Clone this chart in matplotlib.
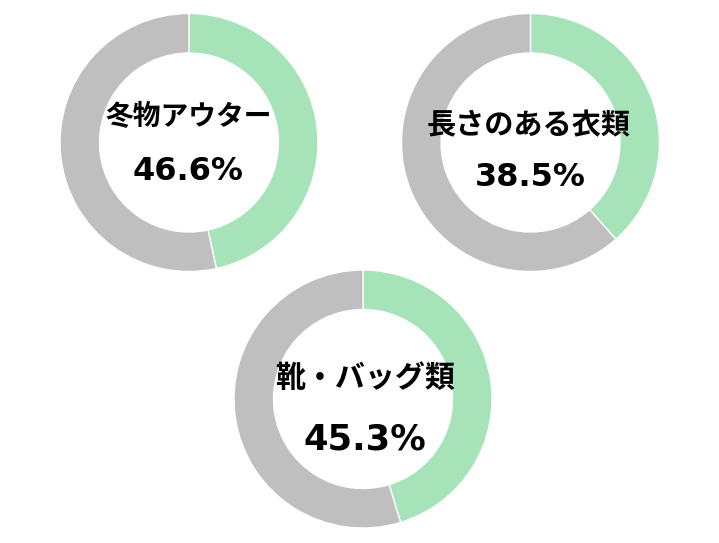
import matplotlib
matplotlib.use('Agg')
import matplotlib.pyplot as plt

# data
labels = ['冬物アウター', '長さのある衣類', '靴・バッグ類']
shares = [46.6, 38.5, 45.3]

# layout in pixel units (y measured from the top)
W, H = 719, 543
centers = [(189, 142.5), (530.5, 142.5), (363, 399)]
title_pos = [(188.5, 117), (529, 125), (365, 378)]
pct_pos = [(188, 171), (530, 177), (365, 440)]
title_size = [20, 21, 21.6]
pct_size = [23, 23, 25.5]
r_out, r_in = 129, 89.5

green = '#a7e3b8'
grey = '#bfbfbf'

fig = plt.figure(figsize=(W / 100, H / 100), dpi=100)
ax = fig.add_axes([0, 0, 1, 1])

for i in range(len(labels)):
    cx, cy = centers[i]
    ax.pie([shares[i], 100 - shares[i]], colors=[green, grey],
           startangle=90, counterclock=False,
           center=(cx, H - cy), radius=r_out,
           wedgeprops=dict(width=r_out - r_in, edgecolor='white', linewidth=1))
    tx, ty = title_pos[i]
    ax.text(tx, H - ty, labels[i], ha='center', va='center',
            fontsize=title_size[i], fontweight='bold',
            family=['Noto Sans CJK JP', 'DejaVu Sans'])
    px, py = pct_pos[i]
    ax.text(px, H - py, f'{shares[i]:.1f}%', ha='center', va='center',
            fontsize=pct_size[i], fontweight='bold', family='DejaVu Sans')

ax.set_xlim(0, W)
ax.set_ylim(0, H)
ax.set_aspect('equal')
ax.axis('off')

fig.savefig('out.png', dpi=100)
